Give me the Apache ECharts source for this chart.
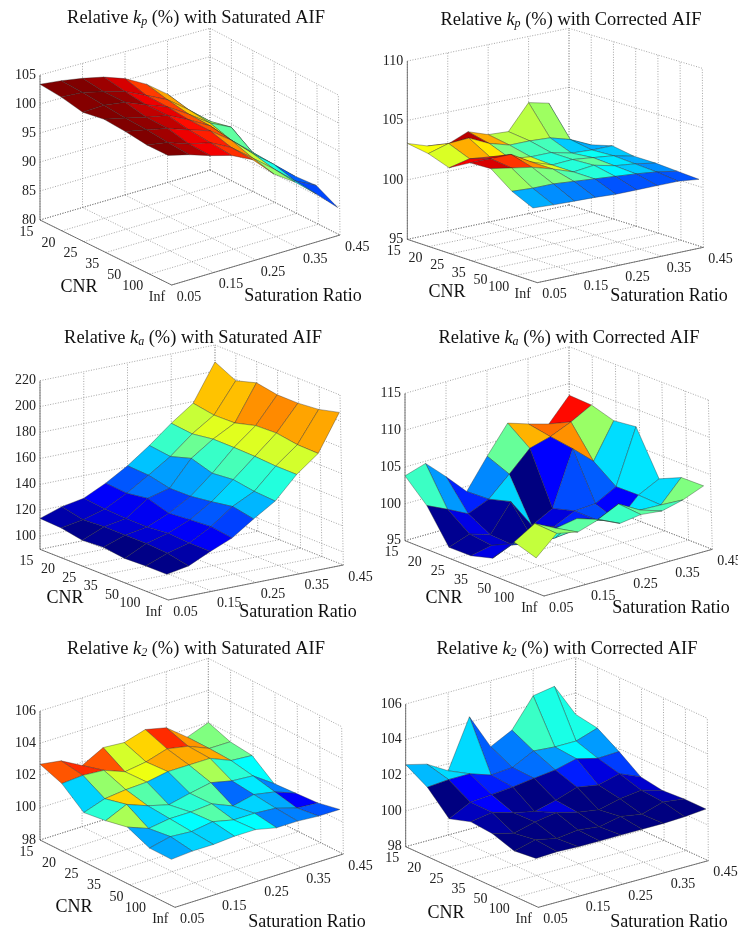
<!DOCTYPE html>
<html>
<head>
<meta charset="utf-8">
<style>html,body{margin:0;padding:0;background:#fff}#c{width:738px;height:934px;filter:blur(0.35px)}</style>
<script src="https://cdn.jsdelivr.net/npm/echarts@6/dist/echarts.min.js"></script>
</head>
<body>
<div id="c"></div>
<script>
// Tick labels
var satTicks = ['0.05', '0.15', '0.25', '0.35', '0.45'];
var cnrTicks = ['15', '20', '25', '35', '50', '100', 'Inf'];
var zTicksKpSat = [80, 85, 90, 95, 100, 105];
var zTicksKpCor = [95, 100, 105, 110];
var zTicksKaSat = [100, 120, 140, 160, 180, 200, 220];
var zTicksKaCor = [95, 100, 105, 110, 115];
var zTicksK2 = [98, 100, 102, 104, 106];

// Values: one row per saturation step (0.05 .. 0.45), one column per CNR (15 .. Inf)
var kpSaturated = [
  [103.4, 103.1, 102.4, 103.1, 102.9, 102.5, 102.6],
  [103.0, 102.9, 102.6, 102.3, 102.2, 101.9, 101.7],
  [102.4, 102.0, 102.1, 101.4, 101.4, 100.6, 100.5],
  [101.6, 101.0, 100.6, 100.7, 100.1, 99.8, 99.5],
  [100.3, 99.3, 99.2, 98.9, 98.9, 97.9, 97.7],
  [98.3, 97.5, 96.9, 96.8, 96.2, 95.0, 94.1],
  [95.5, 94.7, 94.3, 93.2, 92.8, 92.0, 91.6],
  [91.6, 91.6, 92.5, 90.0, 89.8, 88.8, 88.4],
  [87.2, 87.9, 86.9, 86.4, 86.6, 86.9, 84.9]
];
var kpCorrected = [
  [103.07, 102.8, 102.2, 103.2, 103.3, 102.0, 101.2],
  [102.5, 103.3, 102.6, 103.2, 103.0, 101.9, 101.1],
  [102.3, 103.4, 102.4, 103.2, 102.7, 101.9, 101.05],
  [103.0, 102.6, 101.9, 102.2, 102.2, 101.75, 101.0],
  [102.4, 102.1, 101.7, 101.6, 101.6, 101.6, 100.9],
  [102.3, 102.1, 101.7, 101.7, 101.8, 101.45, 100.9],
  [104.4, 102.0, 101.3, 101.5, 101.4, 101.3, 100.9],
  [104.0, 101.5, 101.2, 101.3, 101.2, 101.1, 100.9],
  [100.2, 100.7, 101.2, 100.9, 100.9, 100.8, 100.7]
];
var kaSaturated = [
  [113.8, 113, 110, 111, 109, 109.7, 109.7],
  [119.5, 116, 117, 117, 117, 116, 112.8],
  [122.6, 120.8, 120, 120, 121.5, 120.5, 120.5],
  [130.8, 129.5, 132, 127, 128.5, 129.7, 127.4],
  [140.8, 140, 136.4, 136.7, 139, 141.8, 138.7],
  [153, 151, 156, 151, 152.6, 150, 149],
  [166.7, 165, 167.4, 167.4, 167, 166, 166],
  [178.7, 176, 176.4, 180.8, 181.5, 179, 178.7],
  [207, 199, 203.8, 201, 201, 202.6, 206.7]
];
var kaCorrected = [
  [103.8, 101, 96.6, 96.7, 97.6, 101, 100.1],
  [104.7, 99.7, 97.6, 97.3, 98.8, 102.7, 102.6],
  [102.1, 98.3, 96.7, 96.6, 98.0, 101.3, 102],
  [99.3, 99.5, 100.4, 96.5, 98, 101.8, 102.9],
  [103.3, 102.1, 96.4, 97.5, 98.3, 100.9, 101.6],
  [107, 104.8, 97.9, 98.8, 98.8, 102.2, 102],
  [106.1, 105.6, 105.2, 99, 97.9, 100.6, 101.7],
  [105.3, 106.8, 102.7, 100.5, 100.6, 100.5, 102.4],
  [108.4, 108.3, 107.4, 107.8, 102, 103.4, 103.5]
];
var k2Saturated = [
  [102.7, 102.2, 101.1, 101.3, 101.6, 101.0, 101.0],
  [102.5, 102.3, 101.55, 101.9, 101.1, 101.3, 101.1],
  [101.8, 102.2, 101.7, 101.4, 101.3, 101.2, 101.1],
  [102.5, 101.7, 101.76, 101.05, 101.3, 101.4, 101.2],
  [102.4, 101.9, 102.0, 101.35, 101.4, 101.1, 101.2],
  [102.8, 102.3, 102.0, 101.6, 100.85, 101.1, 100.9],
  [102.5, 102.05, 102.0, 101.3, 101.15, 101.0, 100.9],
  [101.5, 101.5, 101.45, 101.2, 100.9, 100.6, 100.8],
  [102.0, 101.5, 101.35, 100.3, 100.4, 100.5, 100.8]
];
var k2Corrected = [
  [102.6, 101.9, 100.7, 101.1, 101.0, 100.6, 100.75],
  [102.3, 102.0, 101.3, 101.3, 100.7, 100.9, 100.8],
  [101.6, 102.0, 101.4, 100.95, 101.0, 100.65, 100.75],
  [104.3, 101.6, 101.5, 100.7, 101.2, 100.8, 100.75],
  [102.3, 101.7, 101.66, 101.0, 100.9, 100.65, 100.75],
  [102.9, 102.3, 101.8, 101.4, 100.7, 100.9, 100.75],
  [104.5, 102.2, 102.1, 101.2, 101.0, 100.7, 100.75],
  [104.7, 102.2, 101.8, 101.5, 101.15, 101.05, 100.8],
  [102.8, 102.6, 101.85, 101.0, 100.8, 100.9, 100.9]
];

// Colour readings for cells whose shade differs from their vertex height: [step, cnr, value]
var kaCorrectedCellShades = [[0, 0, 101.6], [0, 4, 98.6], [0, 5, 103.2]];
var kpCorrectedCellShades = [[0, 0, 102.3]];

var FONT = '"Liberation Serif", "Times New Roman", serif';

// Panel frames (measured at 3x, then divided) and colour limits
var panels = [
  {values: kpSaturated, ticks: zTicksKpSat, zMin: 80, zMax: 105, cMin: 85, cMax: 102.5, sub: 'p', mode: 'Saturated', lean: -2,
   off: [0, 0], L: [120, 660], B: [630, 510], F: [515, 855], R: [1020, 705], TL: [120, 225], TB: [630, 85], TR: [1015, 285],
   title: [196, 17], cnr: [79, 287], sat: [303, 296]},
  {values: kpCorrected, shades: kpCorrectedCellShades, ticks: zTicksKpCor, zMin: 95, zMax: 110, cMin: 100.2, cMax: 103.6, sub: 'p', mode: 'Corrected', lean: -4,
   off: [369, 0], L: [115, 718], B: [600, 615], F: [505, 848], R: [1003, 742], TL: [115, 183], TB: [600, 85], TR: [1000, 205],
   title: [571, 19], cnr: [447, 292], sat: [669, 296]},
  {values: kaSaturated, ticks: zTicksKaSat, zMin: 90, zMax: 220, cMin: 109, cMax: 207, sub: 'a', mode: 'Saturated', lean: -1,
   off: [0, 310], L: [120, 718], B: [645, 613], F: [505, 870], R: [1030, 765], TL: [120, 212], TB: [645, 105], TR: [1020, 255],
   title: [193, 337], cnr: [65, 598], sat: [298, 612]},
  {values: kaCorrected, shades: kaCorrectedCellShades, ticks: zTicksKaCor, zMin: 95, zMax: 115, cMin: 96.4, cMax: 108.4, sub: 'a', mode: 'Corrected', lean: -7,
   off: [369, 310], L: [108, 692], B: [602, 552], F: [525, 858], R: [1030, 718], TL: [108, 250], TB: [600, 110], TR: [1018, 270],
   title: [569, 337], cnr: [444, 598], sat: [671, 608]},
  {values: k2Saturated, ticks: zTicksK2, zMin: 98, zMax: 106, cMin: 100.3, cMax: 102.7, sub: '2', mode: 'Saturated', lean: -3,
   off: [0, 630], L: [120, 630], B: [625, 470], F: [525, 832], R: [1030, 672], TL: [120, 243], TB: [625, 85], TR: [1025, 290],
   title: [196, 648], cnr: [74, 907], sat: [307, 922]},
  {values: k2Corrected, ticks: zTicksK2, zMin: 98, zMax: 106, cMin: 100.9, cMax: 104.15, sub: '2', mode: 'Corrected', lean: -2,
   off: [369, 630], L: [110, 650], B: [620, 510], F: [508, 832], R: [1018, 692], TL: [110, 222], TB: [620, 82], TR: [1015, 265],
   title: [567, 648], cnr: [446, 913], sat: [669, 922]}
];

function clamp01(v) { return Math.max(0, Math.min(1, v)); }
function jet(f) {
  f = clamp01(f);
  var r = clamp01(1.5 - Math.abs(4 * f - 3));
  var g = clamp01(1.5 - Math.abs(4 * f - 2));
  var b = clamp01(1.5 - Math.abs(4 * f - 1));
  return 'rgb(' + Math.round(r * 255) + ',' + Math.round(g * 255) + ',' + Math.round(b * 255) + ')';
}

// Oblique view of the (saturation step, CNR step, value) box onto the page axes
function projector(p) {
  function sc(q) { return [p.off[0] + q[0] / 3, p.off[1] + q[1] / 3]; }
  var L = sc(p.L), B = sc(p.B), F = sc(p.F), R = sc(p.R), TL = sc(p.TL), TB = sc(p.TB), TR = sc(p.TR);
  var vL = [TL[0] - L[0], TL[1] - L[1]], vB = [TB[0] - B[0], TB[1] - B[1]], vR = [TR[0] - R[0], TR[1] - R[1]];
  var vF = [vL[0] + vR[0] - vB[0], vL[1] + vR[1] - vB[1]];
  var ni = p.values.length - 1, nj = p.values[0].length - 1;
  return function (i, j, z, lean) {
    var u = i / ni, v = j / nj, t = (z - p.zMin) / (p.zMax - p.zMin), out = [];
    for (var k = 0; k < 2; k++) {
      var fl = L[k] * (1 - u) * (1 - v) + B[k] * u * (1 - v) + F[k] * (1 - u) * v + R[k] * u * v;
      var up = vL[k] * (1 - u) * (1 - v) + vB[k] * u * (1 - v) + vF[k] * (1 - u) * v + vR[k] * u * v;
      out.push(fl + up * t);
    }
    if (lean) { out[0] += lean * v; }
    return out;
  };
}

function frameSeries(p) {
  var proj = projector(p), ni = p.values.length - 1, nj = p.values[0].length - 1;
  var satStep = ni / (satTicks.length - 1);
  return {
    type: 'custom', coordinateSystem: 'cartesian2d', clip: false, silent: true, z: 1,
    data: [[0, 0]],
    renderItem: function (params, api) {
      var kids = [];
      function seg(a, b, solid) {
        var pa = api.coord(a), pb = api.coord(b);
        kids.push({type: 'line', silent: true, shape: {x1: pa[0], y1: pa[1], x2: pb[0], y2: pb[1]},
          style: solid ? {stroke: '#555', lineWidth: 0.8} : {stroke: '#808080', lineWidth: 0.7, lineDash: [1, 1.6]}});
      }
      function label(text, pos, align) {
        var q = api.coord(pos);
        kids.push({type: 'text', silent: true, x: q[0], y: q[1], style: {text: text, font: '14px ' + FONT, fill: '#222', align: align, verticalAlign: 'middle'}});
      }
      var z0 = p.zMin, z1 = p.zMax, i, j;
      for (i = 0; i <= ni; i += satStep) {
        seg(proj(i, 0, z0), proj(i, nj, z0));
        seg(proj(i, 0, z0), proj(i, 0, z1));
      }
      for (j = 0; j <= nj; j++) {
        seg(proj(0, j, z0), proj(ni, j, z0));
        seg(proj(ni, j, z0), proj(ni, j, z1));
      }
      p.ticks.forEach(function (z) {
        seg(proj(0, 0, z), proj(ni, 0, z));
        seg(proj(ni, 0, z), proj(ni, nj, z));
      });
      seg(proj(0, 0, z0), proj(ni, 0, z0));
      seg(proj(ni, 0, z0), proj(ni, nj, z0));
      seg(proj(0, 0, z0), proj(0, 0, z1), true);
      seg(proj(0, 0, z0), proj(0, nj, z0), true);
      seg(proj(0, nj, z0), proj(ni, nj, z0), true);
      p.ticks.forEach(function (z) {
        var q = proj(0, 0, z);
        label(String(z), [q[0] - 4, q[1]], 'right');
      });
      cnrTicks.forEach(function (t, idx) {
        var q = proj(0, idx, z0);
        label(t, [q[0] - 6.5, q[1] + 12], 'right');
      });
      satTicks.forEach(function (t, idx) {
        var q = proj(idx * satStep, nj, z0);
        label(t, [q[0] + 5, q[1] + 12], 'left');
      });
      return {type: 'group', children: kids};
    }
  };
}

function surfaceSeries(p) {
  var proj = projector(p), rows = [], m = p.values, shadeOf = {};
  (p.shades || []).forEach(function (s) { shadeOf[s[0] + '_' + s[1]] = s[2]; });
  for (var i = m.length - 2; i >= 0; i--) {
    for (var j = 0; j < m[0].length - 1; j++) {
      var key = i + '_' + j;
      rows.push([i, j, m[i][j], m[i + 1][j], m[i + 1][j + 1], m[i][j + 1], key in shadeOf ? shadeOf[key] : m[i][j + 1]]);
    }
  }
  return {
    type: 'custom', coordinateSystem: 'cartesian2d', clip: false, silent: true, z: 2,
    data: rows,
    renderItem: function (params, api) {
      var i = api.value(0), j = api.value(1);
      var pts = [proj(i, j, api.value(2), p.lean), proj(i + 1, j, api.value(3), p.lean), proj(i + 1, j + 1, api.value(4), p.lean), proj(i, j + 1, api.value(5), p.lean)].map(function (q) { return api.coord(q); });
      return {type: 'polygon', silent: true, shape: {points: pts},
        style: {fill: jet((api.value(6) - p.cMin) / (p.cMax - p.cMin)), stroke: 'rgba(40,40,40,0.6)', lineWidth: 0.6}};
    }
  };
}

function nameSeries() {
  var items = [];
  panels.forEach(function (p) {
    items.push(['CNR', p.cnr[0], p.cnr[1]]);
    items.push(['Saturation Ratio', p.sat[0], p.sat[1]]);
  });
  return {
    type: 'custom', coordinateSystem: 'cartesian2d', clip: false, silent: true, z: 3,
    encode: {x: 1, y: 2}, data: items,
    renderItem: function (params, api) {
      var q = api.coord([api.value(1), api.value(2)]);
      return {type: 'text', silent: true, x: q[0], y: q[1], style: {text: items[params.dataIndex][0], font: '18px ' + FONT, fill: '#111', align: 'center', verticalAlign: 'middle'}};
    }
  };
}

var series = [];
panels.forEach(function (p) { series.push(frameSeries(p)); });
panels.forEach(function (p) { series.push(surfaceSeries(p)); });
series.push(nameSeries());

var titles = panels.map(function (p) {
  return {
    text: '{a|Relative }{k|k}{s|' + p.sub + '}{a| (%) with ' + p.mode + ' AIF}',
    left: p.title[0], top: p.title[1] - 9, textAlign: 'center', padding: 0,
    textStyle: {fontFamily: FONT, fontWeight: 'normal', rich: {
      a: {fontFamily: FONT, fontWeight: 'normal', fontSize: 18.4, color: '#111', lineHeight: 20},
      k: {fontFamily: FONT, fontWeight: 'normal', fontSize: 18.4, color: '#111', lineHeight: 20, fontStyle: 'italic'},
      s: {fontFamily: FONT, fontWeight: 'normal', fontSize: 12, color: '#111', fontStyle: 'italic', lineHeight: 12, verticalAlign: 'bottom', padding: [5, 0, 0, 0]}
    }}
  };
});

var chart = echarts.init(document.getElementById('c'), null, {renderer: 'canvas'});
chart.setOption({
  animation: false,
  backgroundColor: '#fff',
  title: titles,
  grid: {left: 0, right: 0, top: 0, bottom: 0},
  xAxis: {type: 'value', min: 0, max: 738, show: false},
  yAxis: {type: 'value', min: 0, max: 934, inverse: true, show: false},
  series: series
});
</script>
</body>
</html>
